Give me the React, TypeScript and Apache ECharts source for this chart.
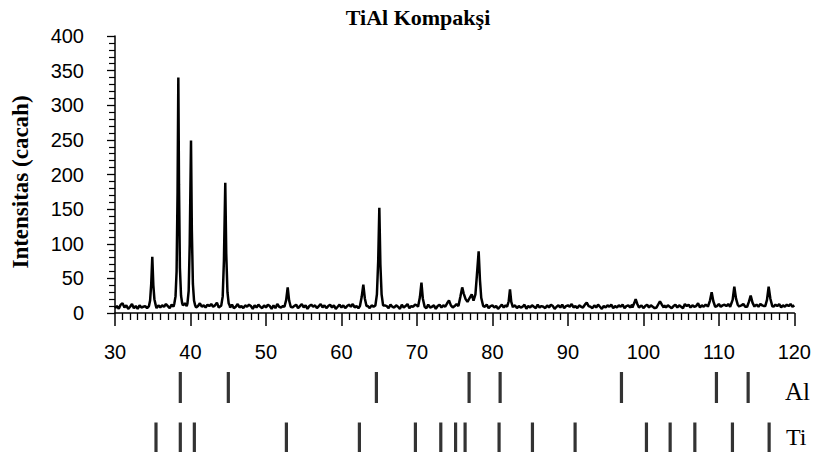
import React, { useEffect, useRef } from "react";
import * as echarts from "echarts";

// 2-theta range and ticks
const xMin = 30;
const xMax = 120;
const xInterval = 10;
const yMin = 0;
const yMax = 400;
const yInterval = 50;

// Baseline counts, read every 0.25 degree from 30 to 120
const baseStart = 30;
const baseStep = 0.25;
const baselineCounts = [
  7, 10, 6, 12, 14, 8, 11, 6, 9, 13, 7, 10, 6, 11, 8, 9, 10, 7, 12, 8,
  9, 12, 7, 11, 8, 11, 9, 13, 10, 7, 12, 9, 13, 10, 9, 12, 11, 14, 10, 12,
  13, 9, 11, 8, 10, 14, 9, 11, 8, 12, 10, 13, 9, 11, 15, 8, 10, 7, 9, 12,
  11, 8, 12, 7, 9, 13, 8, 10, 7, 11, 9, 12, 10, 6, 11, 8, 12, 9, 7, 11,
  8, 12, 10, 6, 11, 7, 13, 9, 8, 10, 7, 12, 9, 11, 8, 10, 12, 7, 10, 13,
  8, 11, 6, 10, 12, 9, 11, 7, 10, 13, 8, 11, 7, 10, 12, 8, 11, 6, 9, 12,
  8, 11, 7, 10, 12, 9, 13, 8, 10, 7, 11, 9, 8, 12, 10, 7, 11, 9, 6, 10,
  9, 12, 8, 11, 10, 7, 12, 9, 8, 11, 9, 6, 12, 8, 10, 13, 7, 10, 9, 12,
  11, 8, 13, 9, 10, 7, 12, 8, 9, 11, 6, 10, 12, 8, 11, 9, 14, 18, 11, 8,
  10, 13, 9, 12, 11, 14, 12, 13, 12, 10, 13, 11, 12, 10, 9, 11, 9, 12, 7, 10,
  11, 8, 10, 6, 9, 12, 8, 11, 7, 10, 8, 9, 11, 7, 10, 8, 9, 12, 6, 10,
  8, 11, 9, 7, 12, 8, 10, 9, 7, 11, 8, 12, 10, 6, 9, 11, 8, 12, 7, 10,
  11, 9, 13, 8, 10, 7, 11, 9, 8, 12, 15, 10, 9, 7, 11, 8, 12, 9, 6, 10,
  8, 11, 9, 12, 7, 10, 8, 11, 9, 12, 7, 10, 11, 8, 12, 9, 13, 10, 8, 11,
  7, 10, 12, 8, 11, 9, 7, 10, 9, 13, 15, 11, 8, 11, 9, 7, 10, 12, 8, 11,
  9, 7, 13, 10, 12, 8, 11, 9, 10, 14, 8, 11, 9, 12, 10, 13, 11, 14, 12, 10,
  13, 9, 11, 12, 10, 13, 9, 12, 14, 16, 12, 10, 11, 13, 9, 12, 14, 11, 13, 10,
  12, 9, 13, 11, 10, 13, 12, 15, 11, 9, 12, 10, 13, 8, 11, 9, 12, 10, 13, 9,
  11,
];

// Diffraction peaks: [2theta, counts] profile points
const peakProfiles: [number, number][][] = [
  [[34.5, 10], [34.65, 18], [34.8, 42], [34.94, 81], [35.08, 40], [35.22, 20], [35.4, 11]],
  [[37.85, 13], [38.02, 24], [38.16, 60], [38.29, 175], [38.39, 340], [38.48, 185], [38.6, 65], [38.75, 25], [38.9, 14]],
  [[39.6, 14], [39.76, 32], [39.9, 100], [40.07, 249], [40.18, 120], [40.32, 42], [40.47, 18], [40.62, 11]],
  [[44.08, 11], [44.27, 24], [44.43, 75], [44.61, 188], [44.74, 85], [44.9, 30], [45.06, 14], [45.22, 10]],
  [[52.45, 9], [52.68, 19], [52.88, 37], [53.07, 18], [53.28, 9]],
  [[62.45, 10], [62.68, 23], [62.9, 41], [63.1, 21], [63.32, 10]],
  [[64.5, 11], [64.7, 27], [64.87, 75], [65.02, 152], [65.16, 70], [65.32, 27], [65.52, 11]],
  [[70.15, 9], [70.4, 23], [70.6, 44], [70.78, 21], [71.02, 9]],
  [[75.5, 10], [75.75, 23], [76.0, 37], [76.2, 28], [76.45, 20], [76.7, 16], [77.0, 22], [77.26, 27], [77.5, 18], [77.75, 27], [77.95, 55], [78.18, 89], [78.35, 48], [78.52, 22], [78.78, 10]],
  [[81.95, 9], [82.16, 17], [82.33, 34], [82.5, 16], [82.72, 8]],
  [[98.55, 8], [98.78, 14], [98.98, 20], [99.2, 13], [99.42, 8]],
  [[101.75, 8], [102.0, 13], [102.2, 17], [102.45, 12], [102.7, 8]],
  [[108.55, 9], [108.83, 18], [109.05, 30], [109.27, 17], [109.52, 9]],
  [[111.55, 9], [111.83, 19], [112.05, 38], [112.27, 21], [112.5, 12], [112.72, 9]],
  [[113.75, 9], [113.98, 16], [114.22, 25], [114.46, 15], [114.72, 9]],
  [[116.15, 10], [116.38, 19], [116.6, 38], [116.82, 21], [117.08, 10]],
];

// Reference line positions (2theta) as drawn under the pattern
const alLines = [38.65, 45.01, 64.62, 76.9, 81.01, 97.08, 109.66, 113.86];
const tiLines = [35.43, 38.65, 40.51, 52.7, 62.37, 69.79, 73.15, 75.11, 76.37, 80.87, 85.29, 90.94, 100.39, 103.53, 106.8, 111.78, 116.64];

const titleText = "TiAl Kompakşi";
const yName = "Intensitas (cacah)";
const alLabel = "Al";
const tiLabel = "Ti";

function buildPattern(): [number, number][] {
  const windows = peakProfiles.map((p) => [p[0][0], p[p.length - 1][0]]);
  const pts: [number, number][] = [];
  baselineCounts.forEach((v, i) => {
    const x = +(baseStart + i * baseStep).toFixed(3);
    if (!windows.some(([a, b]) => x >= a && x <= b)) pts.push([x, v]);
  });
  peakProfiles.forEach((p) => p.forEach((q) => pts.push([q[0], q[1]])));
  pts.sort((a, b) => a[0] - b[0]);
  return pts;
}

const SANS = '"Liberation Sans", Arial, Helvetica, sans-serif';
const SERIF = '"Liberation Serif", "Times New Roman", serif';

export default function App() {
  const ref = useRef<HTMLDivElement>(null);
  useEffect(() => {
    if (!ref.current) return;
    const chart = echarts.init(ref.current, undefined, { renderer: "svg" });
    const gridL = 115;
    const gridR = 19.5;
    chart.setOption({
      animation: false,
      backgroundColor: "#fff",
      grid: [
        { left: gridL, right: gridR, top: 36, bottom: 139 },
        { left: gridL, right: gridR, top: 372, height: 31 },
        { left: gridL, right: gridR, top: 423, height: 30 },
      ],
      xAxis: [
        {
          type: "value",
          gridIndex: 0,
          min: xMin,
          max: xMax,
          interval: xInterval,
          axisLine: { show: true, onZero: false, lineStyle: { color: "#000", width: 1.5 } },
          axisTick: { show: true, inside: false, length: 13, lineStyle: { color: "#000", width: 1.5 } },
          minorTick: { show: true, splitNumber: 10, length: 7, lineStyle: { color: "#000", width: 1.3 } },
          axisLabel: { color: "#000", fontSize: 20, fontFamily: SANS, margin: 29 },
          splitLine: { show: false },
        },
        { type: "value", gridIndex: 1, min: xMin, max: xMax, show: false },
        { type: "value", gridIndex: 2, min: xMin, max: xMax, show: false },
      ],
      yAxis: [
        {
          type: "value",
          gridIndex: 0,
          min: yMin,
          max: yMax,
          interval: yInterval,
          axisLine: { show: true, lineStyle: { color: "#000", width: 1.5 } },
          axisTick: { show: true, inside: false, length: 8, lineStyle: { color: "#000", width: 1.3 } },
          minorTick: { show: true, splitNumber: 5, length: 6, lineStyle: { color: "#000", width: 1.2 } },
          axisLabel: { color: "#000", fontSize: 20, fontFamily: SANS, margin: 31 },
          splitLine: { show: false },
        },
        { type: "value", gridIndex: 1, min: 0, max: 1, show: false },
        { type: "value", gridIndex: 2, min: 0, max: 1, show: false },
      ],
      series: [
        {
          type: "line",
          xAxisIndex: 0,
          yAxisIndex: 0,
          data: buildPattern(),
          showSymbol: false,
          symbol: "none",
          lineStyle: { color: "#000", width: 2.5 },
        },
        {
          type: "scatter",
          xAxisIndex: 1,
          yAxisIndex: 1,
          data: alLines.map((x) => [x, 0.5]),
          symbol: "rect",
          symbolSize: [3.2, 31],
          itemStyle: { color: "#000" },
        },
        {
          type: "scatter",
          xAxisIndex: 2,
          yAxisIndex: 2,
          data: tiLines.map((x) => [x, 0.5]),
          symbol: "rect",
          symbolSize: [3.2, 30],
          itemStyle: { color: "#000" },
        },
      ],
      graphic: [
        {
          type: "text",
          x: 418,
          y: 17,
          style: { text: titleText, fontSize: 22, fontWeight: "bold", fontFamily: SERIF, fill: "#000", align: "center", verticalAlign: "middle" },
        },
        {
          type: "text",
          x: 20,
          y: 182,
          rotation: Math.PI / 2,
          style: { text: yName, fontSize: 23, fontWeight: "bold", fontFamily: SERIF, fill: "#000", align: "center", verticalAlign: "middle" },
        },
        {
          type: "text",
          x: 785,
          y: 391,
          style: { text: alLabel, fontSize: 25, fontFamily: SERIF, fill: "#000", align: "left", verticalAlign: "middle" },
        },
        {
          type: "text",
          x: 786,
          y: 437,
          style: { text: tiLabel, fontSize: 24, fontFamily: SERIF, fill: "#000", align: "left", verticalAlign: "middle" },
        },
      ],
    });
    return () => chart.dispose();
  }, []);
  return <div ref={ref} style={{ width: 814, height: 452, position: "absolute", left: 0, top: 0 }} />;
}
